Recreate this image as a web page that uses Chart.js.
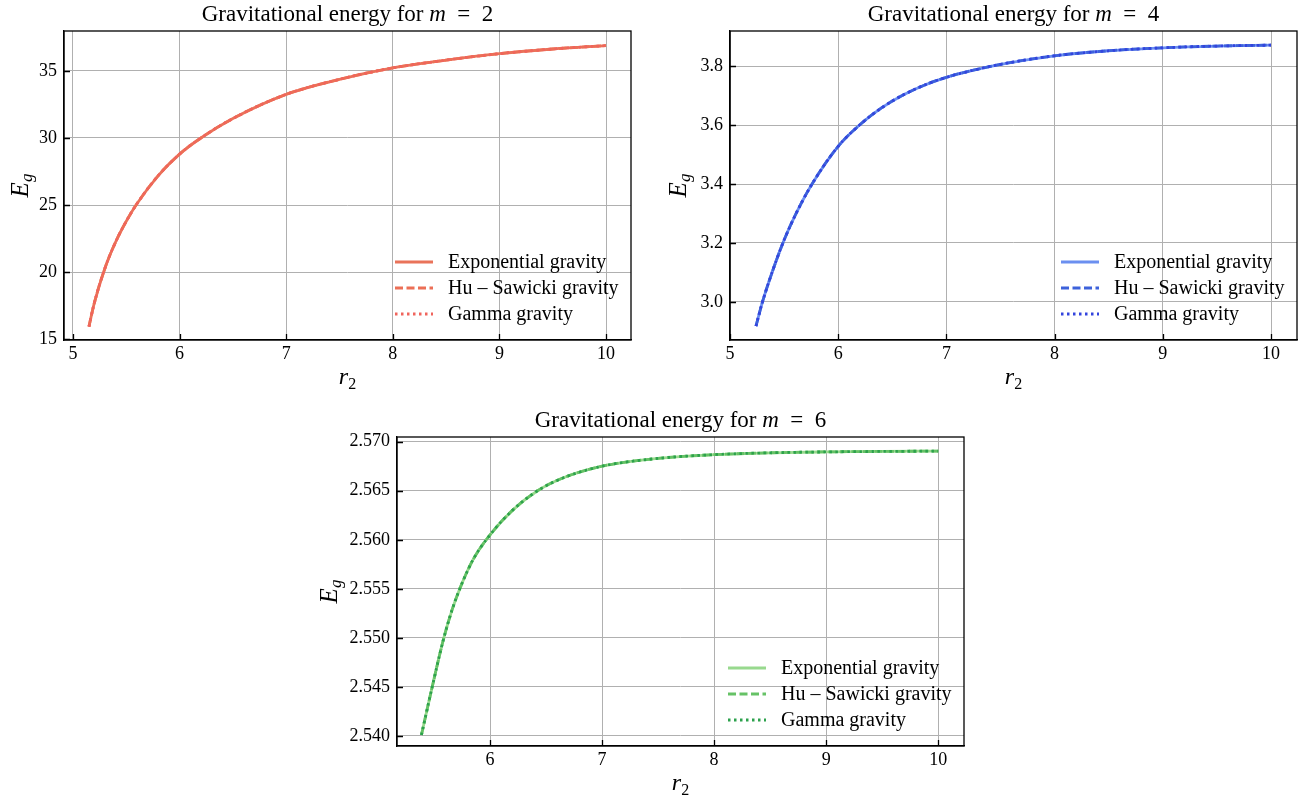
<!DOCTYPE html>
<html>
<head>
<meta charset="utf-8">
<script src="https://cdn.jsdelivr.net/npm/chart.js@4.4.0/dist/chart.umd.min.js"></script>
<style>
  html, body { margin: 0; padding: 0; background: #fff; }
  body { width: 1304px; height: 800px; position: relative; overflow: hidden; }
  canvas { position: absolute; }
</style>
</head>
<body>
<canvas id="c1" width="652" height="400" style="left:0;top:0"></canvas>
<canvas id="c2" width="652" height="400" style="left:652px;top:0"></canvas>
<canvas id="c3" width="700" height="400" style="left:300px;top:400px"></canvas>
<script>
// series names (same in every panel)
const seriesNames = ['Exponential gravity', 'Hu \u2013 Sawicki gravity', 'Gamma gravity'];

// m = 2
const r2_m2 = [5.15, 5.2, 5.3, 5.4, 5.5, 5.6, 5.8, 6.0, 6.2, 6.5, 7.0, 7.5, 8.0, 8.5, 9.0, 9.5, 10.0];
const eg_m2 = [15.95, 17.7, 20.3, 22.25, 23.8, 25.1, 27.2, 28.8, 30.0, 31.45, 33.25, 34.37, 35.22, 35.8, 36.28, 36.63, 36.88];
const xTicks_m2 = ['5', '6', '7', '8', '9', '10'];
const yTicks_m2 = ['15', '20', '25', '30', '35'];

// m = 4
const r2_m4 = [5.24, 5.3, 5.4, 5.5, 5.6, 5.75, 6.0, 6.2, 6.4, 6.6, 6.8, 7.0, 7.25, 7.5, 8.0, 8.5, 9.0, 9.5, 10.0];
const eg_m4 = [2.918, 3.0, 3.112, 3.21, 3.292, 3.395, 3.528, 3.601, 3.658, 3.702, 3.736, 3.762, 3.786, 3.806, 3.835, 3.852, 3.862, 3.868, 3.871];
const xTicks_m4 = ['5', '6', '7', '8', '9', '10'];
const yTicks_m4 = ['3.0', '3.2', '3.4', '3.6', '3.8'];

// m = 6
const r2_m6 = [5.388, 5.484, 5.588, 5.66, 5.737, 5.85, 6.0, 6.2, 6.424, 6.65, 7.0, 7.5, 8.0, 8.5, 9.0, 9.5, 10.0];
const eg_m6 = [2.5401, 2.5450, 2.5500, 2.5528, 2.5552, 2.5580, 2.5605, 2.5630, 2.5650, 2.5663, 2.5675, 2.5683, 2.56868, 2.56887, 2.56896, 2.56901, 2.56904];
const xTicks_m6 = ['6', '7', '8', '9', '10'];
const yTicks_m6 = ['2.540', '2.545', '2.550', '2.555', '2.560', '2.565', '2.570'];

const SERIF = '"Liberation Serif", "DejaVu Serif", serif';

function drawParts(ctx, parts, x, y, align) {
  let total = 0;
  parts.forEach(p => { ctx.font = p.font; p.w = ctx.measureText(p.t).width; total += p.w; });
  let cx = align === 'center' ? x - total / 2 : x;
  parts.forEach(p => {
    ctx.font = p.font;
    ctx.fillText(p.t, cx, y + (p.dy || 0));
    cx += p.w;
  });
}

// frame, inward ticks, title, axis labels, legend
const decorPlugin = {
  id: 'decor',
  afterDraw(chart, args, o) {
    const ctx = chart.ctx;
    const a = chart.chartArea;
    const xs = chart.scales.x, ys = chart.scales.y;
    ctx.save();
    ctx.strokeStyle = '#000';
    ctx.lineWidth = 1.3;
    ctx.strokeRect(a.left, a.top, a.right - a.left, a.bottom - a.top);

    ctx.beginPath();
    xs.ticks.forEach(t => {
      const px = Math.round(xs.getPixelForValue(t.value)) + 0.5;
      ctx.moveTo(px, a.bottom); ctx.lineTo(px, a.bottom - 6);
    });
    ys.ticks.forEach(t => {
      const py = Math.round(ys.getPixelForValue(t.value)) + 0.5;
      ctx.moveTo(a.left, py); ctx.lineTo(a.left + 6, py);
    });
    ctx.stroke();

    ctx.fillStyle = '#000';
    ctx.textBaseline = 'alphabetic';
    const cx = (a.left + a.right) / 2;
    drawParts(ctx, [
      { t: 'Gravitational energy for ', font: '23px ' + SERIF },
      { t: 'm', font: 'italic 23px ' + SERIF },
      { t: '\u2002=\u2002' + o.m, font: '23px ' + SERIF }
    ], cx, a.top - 10, 'center');

    drawParts(ctx, [
      { t: 'r', font: 'italic 24px ' + SERIF },
      { t: '2', font: '16px ' + SERIF, dy: 5 }
    ], cx, a.bottom + 44, 'center');

    ctx.save();
    ctx.translate(a.left - o.yLabelGap, (a.top + a.bottom) / 2);
    ctx.rotate(-Math.PI / 2);
    drawParts(ctx, [
      { t: 'E', font: 'italic 25px ' + SERIF },
      { t: 'g', font: 'italic 17px ' + SERIF, dy: 4 }
    ], 0, 0, 'center');
    ctx.restore();

    // legend, no frame
    const lx = a.right - 236;
    chart.data.datasets.forEach((ds, i) => {
      const ly = a.bottom - 78 + i * 26;
      ctx.strokeStyle = ds.borderColor;
      ctx.lineWidth = ds.borderWidth;
      ctx.setLineDash(ds.borderDash || []);
      ctx.beginPath();
      ctx.moveTo(lx, ly); ctx.lineTo(lx + 38, ly);
      ctx.stroke();
      ctx.setLineDash([]);
      ctx.font = '20px ' + SERIF;
      ctx.textBaseline = 'middle';
      ctx.fillStyle = '#000';
      ctx.fillText(ds.label, lx + 53, ly + 1);
    });
    ctx.restore();
  }
};

function makeChart(id, xs, ys, xTicks, yTicks, colors, lim, lay) {
  const pts = xs.map((x, i) => ({ x: x, y: ys[i] }));
  const dashes = [[], [8, 3.5], [2.5, 3.5]];
  const datasets = seriesNames.map((name, i) => ({
    label: name,
    data: pts,
    borderColor: colors[i],
    borderWidth: 2.8,
    borderDash: dashes[i],
    pointRadius: 0,
    fill: false,
    cubicInterpolationMode: 'monotone',
    order: 3 - i
  }));
  const tickFont = { family: SERIF, size: 18 };
  return new Chart(document.getElementById(id), {
    type: 'line',
    data: { datasets },
    options: {
      responsive: false,
      animation: false,
      layout: { padding: { top: lay.top, right: lay.right, left: 0, bottom: 0 } },
      plugins: {
        legend: { display: false },
        tooltip: { enabled: false },
        decor: { m: lay.m, yLabelGap: lay.yLabelGap }
      },
      scales: {
        x: {
          type: 'linear',
          min: lim.x[0], max: lim.x[1],
          afterBuildTicks: s => { s.ticks = xTicks.map(v => ({ value: parseFloat(v) })); },
          afterFit: s => { s.height = lay.xh; },
          ticks: { callback: (v, i) => xTicks[i], font: tickFont, color: '#000', padding: 3, maxRotation: 0 },
          grid: { color: '#b0b0b0', lineWidth: 1, drawTicks: false },
          border: { color: '#000', width: 1.3 }
        },
        y: {
          type: 'linear',
          min: lim.y[0], max: lim.y[1],
          afterBuildTicks: s => { s.ticks = yTicks.map(v => ({ value: parseFloat(v) })); },
          afterFit: s => { s.width = lay.yw; },
          ticks: { callback: (v, i) => yTicks[i], font: tickFont, color: '#000', padding: 7 },
          grid: { color: '#b0b0b0', lineWidth: 1, drawTicks: false },
          border: { color: '#000', width: 1.3 }
        }
      }
    },
    plugins: [decorPlugin]
  });
}

makeChart('c1', r2_m2, eg_m2, xTicks_m2, yTicks_m2,
  ['#e9735a', '#ec6f56', '#f0645c'],
  { x: [4.916, 10.234], y: [14.95, 37.97] },
  { m: 2, top: 31, right: 21, yw: 64, xh: 60, yLabelGap: 36 });

makeChart('c2', r2_m4, eg_m4, xTicks_m4, yTicks_m4,
  ['#6b8ff0', '#3d62db', '#3344dd'],
  { x: [5.0, 10.24], y: [2.871, 3.919] },
  { m: 4, top: 31, right: 7, yw: 78, xh: 60, yLabelGap: 44 });

makeChart('c3', r2_m6, eg_m6, xTicks_m6, yTicks_m6,
  ['#98d98e', '#66c266', '#2ca14c'],
  { x: [5.17, 10.23], y: [2.53898, 2.57048] },
  { m: 6, top: 37, right: 36, yw: 97, xh: 54, yLabelGap: 60 });
</script>
</body>
</html>
